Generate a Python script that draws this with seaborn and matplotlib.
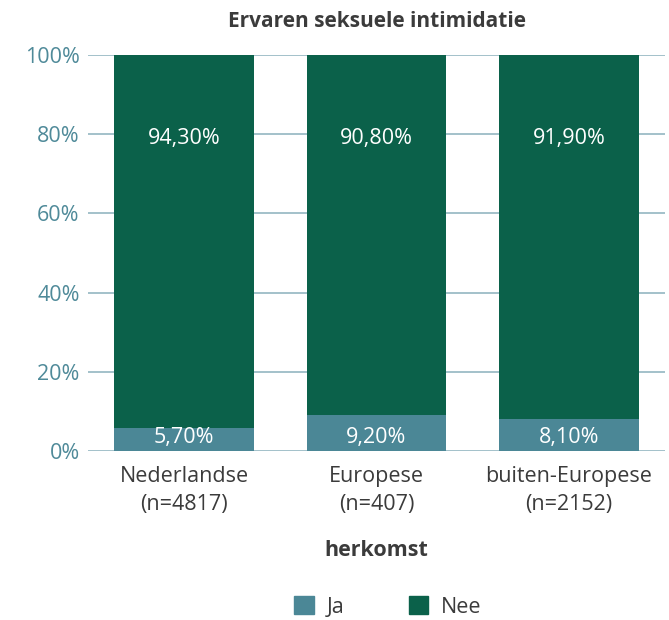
import matplotlib
matplotlib.use("Agg")
import matplotlib.pyplot as plt
import seaborn as sns
import pandas as pd
from matplotlib.patches import Patch

# data
categories = ["Nederlandse\n(n=4817)", "Europese\n(n=407)", "buiten-Europese\n(n=2152)"]
ja = [5.7, 9.2, 8.1]
nee = [94.3, 90.8, 91.9]
ja_labels = ["5,70%", "9,20%", "8,10%"]
nee_labels = ["94,30%", "90,80%", "91,90%"]

JA_COLOR = "#4b8796"
NEE_COLOR = "#0b614a"
TICK_COLOR = "#4f8a99"
GRID_COLOR = "#93b6c1"
TEXT_COLOR = "#3b3b3b"
FS = 15.5

sns.set_theme(style="white")
plt.rcParams["font.family"] = ["Open Sans", "DejaVu Sans"]

df = pd.DataFrame({"herkomst": categories, "Ja": ja, "Nee": nee})
df["totaal"] = df["Ja"] + df["Nee"]

fig = plt.figure(figsize=(6.69, 6.2), dpi=100)
ax = fig.add_axes([88 / 669, (620 - 451) / 620, (665 - 88) / 669, (451 - 55) / 620])

# stacked: total bar (Nee colour) with Ja bar drawn over it
sns.barplot(data=df, x="herkomst", y="totaal", color=NEE_COLOR, width=0.727,
            saturation=1, ax=ax, zorder=3)
sns.barplot(data=df, x="herkomst", y="Ja", color=JA_COLOR, width=0.727,
            saturation=1, ax=ax, zorder=3)
for p in ax.patches:
    p.set_linewidth(0)

for i in range(len(categories)):
    ax.text(i, 79, nee_labels[i], ha="center", va="center", color="white", fontsize=FS, zorder=4)
    ax.text(i, 3.3, ja_labels[i], ha="center", va="center", color="white", fontsize=FS, zorder=4)

ax.set_ylim(0, 100)
ax.set_xlim(-0.5, 2.5)
ax.set_yticks([0, 20, 40, 60, 80, 100])
ax.set_yticklabels([f"{v}%" for v in [0, 20, 40, 60, 80, 100]])
ax.yaxis.grid(True, color=GRID_COLOR, linewidth=1.2, zorder=0)
ax.set_axisbelow(True)
ax.tick_params(axis="y", colors=TICK_COLOR, labelsize=FS, length=0, pad=6)
ax.tick_params(axis="x", colors=TEXT_COLOR, labelsize=FS, length=0, pad=11)
for lbl in ax.get_xticklabels():
    lbl.set_linespacing(1.45)
for s in ax.spines.values():
    s.set_visible(False)

ax.set_ylabel("")
ax.set_xlabel("herkomst", fontsize=FS, fontweight="bold", color=TEXT_COLOR, labelpad=18)
ax.set_title("Ervaren seksuele intimidatie", fontsize=15, fontweight="bold",
             color=TEXT_COLOR, pad=20)

handles = [Patch(color=JA_COLOR, label="Ja"), Patch(color=NEE_COLOR, label="Nee")]
fig.legend(handles=handles, loc="center", bbox_to_anchor=(388 / 669, 1 - 607 / 620),
           ncol=2, frameon=False, fontsize=FS, handlelength=0.9, handleheight=0.9,
           handletextpad=0.6, columnspacing=3.0, labelcolor=TEXT_COLOR)

fig.savefig("out.png", dpi=100)
